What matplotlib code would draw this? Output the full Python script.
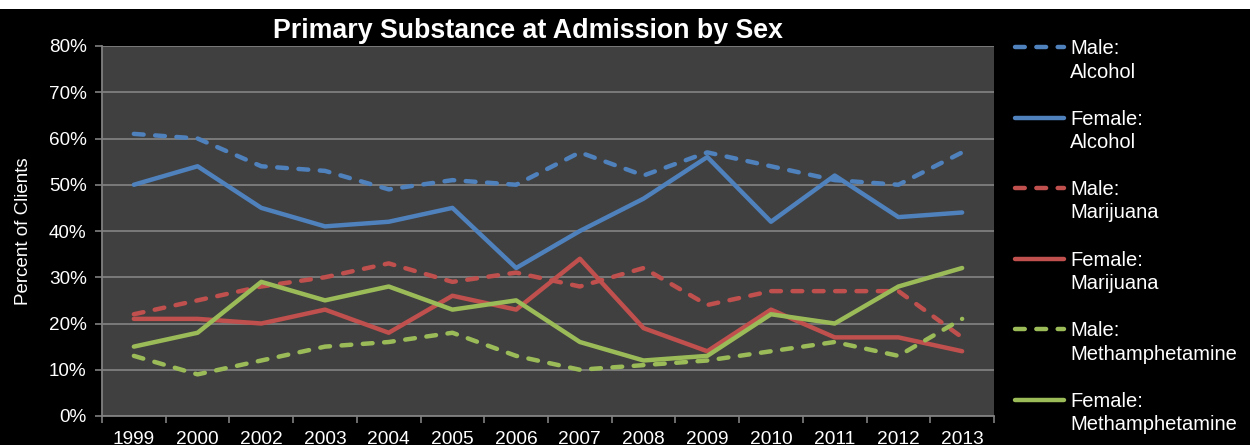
import matplotlib
matplotlib.use("Agg")
import matplotlib.pyplot as plt
from matplotlib.lines import Line2D
import numpy as np

years = ["1999", "2000", "2002", "2003", "2004", "2005", "2006", "2007",
         "2008", "2009", "2010", "2011", "2012", "2013"]
male_alcohol = [61, 60, 54, 53, 49, 51, 50, 57, 52, 57, 54, 51, 50, 57]
female_alcohol = [50, 54, 45, 41, 42, 45, 32, 40, 47, 56, 42, 52, 43, 44]
male_marijuana = [22, 25, 28, 30, 33, 29, 31, 28, 32, 24, 27, 27, 27, 17]
female_marijuana = [21, 21, 20, 23, 18, 26, 23, 34, 19, 14, 23, 17, 17, 14]
male_meth = [13, 9, 12, 15, 16, 18, 13, 10, 11, 12, 14, 16, 13, 21]
female_meth = [15, 18, 29, 25, 28, 23, 25, 16, 12, 13, 22, 20, 28, 32]

labels = [("Male:", "Alcohol"), ("Female:", "Alcohol"), ("Male:", "Marijuana"),
          ("Female:", "Marijuana"), ("Male:", "Methamphetamine"),
          ("Female:", "Methamphetamine")]

BLUE, RED, GREEN = "#4F81BD", "#C0504D", "#9BBB59"
series = [
    (male_alcohol, BLUE, True),
    (female_alcohol, BLUE, False),
    (male_marijuana, RED, True),
    (female_marijuana, RED, False),
    (male_meth, GREEN, True),
    (female_meth, GREEN, False),
]

plt.rcParams['font.family'] = ['Liberation Sans', 'DejaVu Sans']

W, H = 1250, 445
fig = plt.figure(figsize=(W / 100, H / 100), dpi=100, facecolor="black")
fig.patches.append(plt.Rectangle((0, 1 - 9 / H), 1, 9 / H, transform=fig.transFigure,
                                 facecolor="white", edgecolor="none", zorder=0))

left, right, top, bottom = 102, 994, 46, 416
ax = fig.add_axes([left / W, (H - bottom) / H, (right - left) / W, (bottom - top) / H])
ax.set_facecolor("#404040")

LW = 3.2
DASH = (2.2, 2.6)
x = np.arange(len(years))
for vals, col, dashed in series:
    ln, = ax.plot(x, vals, color=col, lw=LW, solid_capstyle="round", solid_joinstyle="round",
                  zorder=3)
    if dashed:
        ln.set_dashes(DASH)
        ln.set_dash_capstyle("round")

ax.set_xlim(-0.5, len(years) - 0.5)
ax.set_ylim(0, 80)
ax.set_yticks(np.arange(0, 81, 10))
ax.set_yticklabels([f"{v}%" for v in range(0, 81, 10)])
ax.set_xticks(x)
ax.set_xticklabels(years)
ax.set_xticks(np.arange(-0.5, len(years), 1), minor=True)
ax.tick_params(axis="x", which="major", length=0, pad=11, labelsize=13.8, labelcolor="white")
ax.tick_params(axis="x", which="minor", length=5, color="#808080", width=1.2)
ax.tick_params(axis="y", length=5, color="#808080", width=1.2, pad=6, labelsize=13.6,
               labelcolor="white")
ax.grid(axis="y", color="#7f7f7f", lw=1.3, zorder=1)
ax.set_axisbelow(True)
for s in ["top", "right"]:
    ax.spines[s].set_visible(False)
for s in ["left", "bottom"]:
    ax.spines[s].set_color("#808080")
    ax.spines[s].set_linewidth(1.3)

ax.set_ylabel("Percent of Clients", color="white", fontsize=13.5, labelpad=12)

fig.text(528 / W, 1 - 31 / H, "Primary Substance at Admission by Sex", color="white",
         fontsize=19.3, fontweight="bold", ha="center", va="center")

# legend
y0 = 49
step = 70.5
for i, ((vals, col, dashed), (l1, l2)) in enumerate(zip(series, labels)):
    yy = y0 + i * step
    ln = Line2D([1015 / W, 1064 / W], [1 - (yy - 2) / H, 1 - (yy - 2) / H],
                transform=fig.transFigure, color=col, lw=LW, solid_capstyle="round")
    if dashed:
        ln.set_dashes(DASH)
        ln.set_dash_capstyle("round")
    fig.add_artist(ln)
    fig.text(1070 / W, 1 - yy / H, l1, color="white", fontsize=14.5, ha="left", va="center")
    fig.text(1070 / W, 1 - (yy + 23) / H, l2, color="white", fontsize=14.5, ha="left",
             va="center")

fig.savefig("out.png", dpi=100, facecolor="black")
